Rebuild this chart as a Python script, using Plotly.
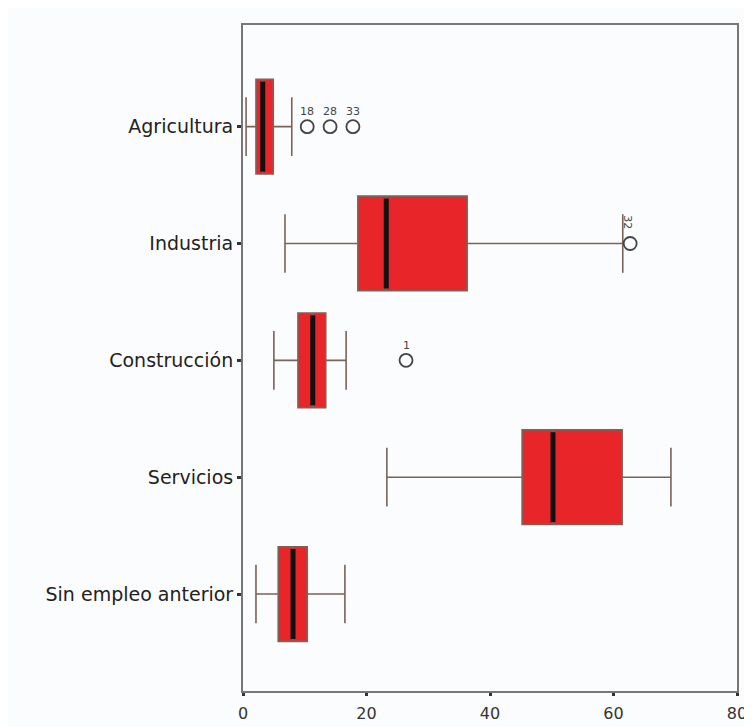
import plotly.graph_objects as go

categories = ["Agricultura", "Industria", "Construcción", "Servicios", "Sin empleo anterior"]
lower_whisker = [0.5, 6.8, 5.0, 23.3, 2.1]
q1 = [2.1, 18.6, 8.9, 45.2, 5.7]
median = [3.2, 23.2, 11.3, 50.2, 8.1]
q3 = [4.9, 36.3, 13.4, 61.4, 10.4]
upper_whisker = [7.9, 61.5, 16.7, 69.3, 16.5]

outlier_cat = [0, 0, 0, 1, 2]
outlier_val = [10.4, 14.1, 17.8, 62.7, 26.4]
outlier_lbl = ["18", "28", "33", "32", "1"]

x_ticks = [0, 20, 40, 60, 80]

BOX_W = 0.81
pos = list(range(len(categories)))

fig = go.Figure()
for i in pos:
    fig.add_trace(go.Box(
        y=[i], q1=[q1[i]], median=[median[i]], q3=[q3[i]],
        lowerfence=[lower_whisker[i]], upperfence=[upper_whisker[i]],
        orientation="h", width=BOX_W, whiskerwidth=0.62,
        fillcolor="#e8262a", line=dict(color="#7d6258", width=1.6),
        boxpoints=False, hoverinfo="skip", showlegend=False,
    ))

# thick black medians
mx, my = [], []
for i in pos:
    mx += [median[i], median[i], None]
    my += [i - BOX_W / 2 + 0.02, i + BOX_W / 2 - 0.02, None]
fig.add_trace(go.Scatter(x=mx, y=my, mode="lines",
                         line=dict(color="#111111", width=5),
                         showlegend=False, hoverinfo="skip"))

# outliers
fig.add_trace(go.Scatter(
    x=outlier_val, y=outlier_cat, mode="markers",
    marker=dict(symbol="circle-open", size=13, color="#444444", line=dict(width=1.8)),
    showlegend=False, hoverinfo="skip"))

for v, c, t in zip(outlier_val, outlier_cat, outlier_lbl):
    if t == "32":
        fig.add_annotation(x=v, y=c, text=t, showarrow=False, textangle=90,
                           xshift=-3, yshift=21, font=dict(size=11, color="#444"))
    else:
        fig.add_annotation(x=v, y=c, text=t, showarrow=False,
                           yshift=15, font=dict(size=11, color="#444"))

fig.update_layout(
    width=752, height=727,
    margin=dict(l=235, r=23, t=17, b=42),
    paper_bgcolor="#fbfcfd", plot_bgcolor="#fbfcfd",
    font=dict(family="DejaVu Sans, sans-serif", size=16, color="#222"),
)
fig.update_xaxes(range=[0, 80], tickvals=x_ticks, showgrid=False, zeroline=False,
                 showline=True, mirror=True, linecolor="#777", linewidth=2,
                 ticks="outside", ticklen=3, tickwidth=3, tickcolor="#333",
                 ticklabelstandoff=4,
                 tickfont=dict(size=16, color="#333"))
fig.update_yaxes(range=[4.83, -0.87], tickvals=pos, ticktext=categories,
                 showgrid=False, zeroline=False,
                 showline=True, mirror=True, linecolor="#777", linewidth=2,
                 ticks="outside", ticklen=4, tickwidth=3, tickcolor="#333",
                 tickfont=dict(size=19, color="#222"))

fig.write_html("out.html")
